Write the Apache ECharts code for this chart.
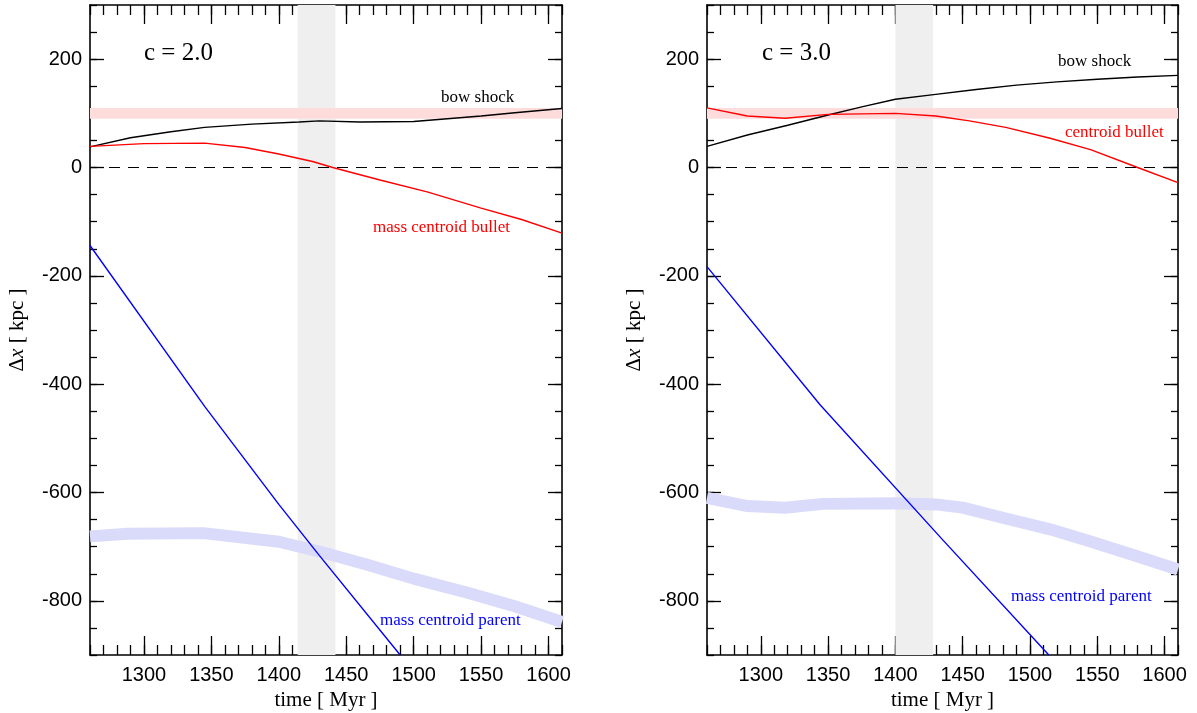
<!DOCTYPE html>
<html>
<head>
<meta charset="utf-8">
<script src="https://cdn.jsdelivr.net/npm/echarts@6/dist/echarts.min.js"></script>
<style>html,body{margin:0;padding:0;background:#fff}#c{width:1197px;height:713px}</style>
</head>
<body>
<div id="c"></div>
<script>
// ---- data (time [Myr], Δx [kpc]) ----
const xTicks = [1300, 1350, 1400, 1450, 1500, 1550, 1600];
const yTicks = [-800, -600, -400, -200, 0, 200];

const leftBow = [[1260,38],[1290,55],[1320,66],[1345,74],[1380,80],[1415,84],[1430,86],[1460,84],[1500,85],[1525,90],[1550,95],[1575,101],[1610,109]];
const leftBullet = [[1260,39],[1300,44],[1345,45],[1375,37],[1400,25],[1425,11],[1440,0],[1475,-23],[1510,-45],[1550,-75],[1580,-96],[1610,-121]];
const leftParent = [[1260,-144],[1345,-441],[1400,-622],[1430,-716],[1490,-900]];
const leftParentBand = [[1260,-681],[1288,-676],[1344,-675],[1400,-691],[1430,-709],[1465,-733],[1500,-759],[1540,-785],[1575,-810],[1610,-839]];

const rightBow = [[1260,39],[1290,60],[1320,78],[1350,97],[1375,112],[1400,126],[1430,135],[1460,144],[1490,152],[1520,158],[1550,163],[1580,167],[1610,170]];
const rightBullet = [[1260,110],[1290,95],[1318,91],[1350,98],[1400,100],[1430,95],[1455,86],[1482,74],[1515,54],[1545,33],[1580,0],[1610,-28]];
const rightParent = [[1260,-183],[1344,-438],[1435,-687],[1514,-900]];
const rightParentBand = [[1260,-610],[1290,-625],[1318,-628],[1346,-621],[1400,-620],[1430,-622],[1450,-628],[1482,-648],[1515,-668],[1542,-688],[1575,-714],[1610,-742]];

const shadeLeft = [1414, 1442];
const shadeRight = [1400, 1428];
const pinkBand = [90, 110];

// ---- layout / style ----
const SERIF = "'Liberation Serif','DejaVu Serif',serif";
const SANS = "'Liberation Sans',Arial,sans-serif";
const grids = [
  {left: 90, top: 5, width: 472, height: 650},
  {left: 707, top: 5, width: 471, height: 650}
];
const axLine = {show: true, onZero: false, lineStyle: {color: '#000', width: 1.6}};
const tickStyle = {color: '#000', width: 1.3};
const plain = v => String(v);

const xAxes = [], yAxes = [];
grids.forEach((g, gi) => {
  ['bottom', 'top'].forEach(pos => {
    xAxes.push({
      gridIndex: gi, type: 'value', min: 1260, max: 1610, position: pos,
      axisLine: axLine,
      axisTick: {show: true, inside: true, length: 19, customValues: xTicks, lineStyle: tickStyle},
      axisLabel: pos === 'bottom'
        ? {show: true, customValues: xTicks, formatter: plain, margin: 10, color: '#000', fontSize: 20, fontFamily: SANS}
        : {show: false},
      splitLine: {show: false},
      name: pos === 'bottom' ? 'time [ Myr ]' : '',
      nameLocation: 'middle', nameGap: 34,
      nameTextStyle: {fontFamily: SERIF, fontSize: 21, color: '#000'}
    });
    xAxes.push({
      gridIndex: gi, type: 'value', min: 1260, max: 1610, interval: 10, position: pos,
      axisLine: {show: false, onZero: false},
      axisTick: {show: true, inside: true, length: 10, lineStyle: tickStyle},
      axisLabel: {show: false}, splitLine: {show: false}
    });
  });
  ['left', 'right'].forEach(pos => {
    yAxes.push({
      gridIndex: gi, type: 'value', min: -900, max: 300, position: pos,
      axisLine: axLine,
      axisTick: {show: true, inside: true, length: 14, customValues: yTicks, lineStyle: tickStyle},
      axisLabel: pos === 'left'
        ? {show: true, customValues: yTicks, formatter: plain, margin: 8, color: '#000', fontSize: 20, fontFamily: SANS}
        : {show: false},
      splitLine: {show: false},
      name: pos === 'left' ? '{d|Δ}{i|x}{d| [ kpc ]}' : '',
      nameLocation: 'middle', nameGap: 62, nameRotate: 90,
      nameTextStyle: {
        fontFamily: SERIF, fontSize: 21, color: '#000',
        rich: {d: {fontFamily: SERIF, fontSize: 21, color: '#000'},
               i: {fontFamily: SERIF, fontSize: 21, fontStyle: 'italic', color: '#000'}}
      }
    });
    yAxes.push({
      gridIndex: gi, type: 'value', min: -900, max: 300, interval: 50, position: pos,
      axisLine: {show: false, onZero: false},
      axisTick: {show: true, inside: true, length: 7, lineStyle: tickStyle},
      axisLabel: {show: false}, splitLine: {show: false}
    });
  });
});

function panelSeries(gi, shade, bow, bullet, parent, parentBand) {
  const xi = gi * 4, yi = gi * 4;
  const base = {type: 'line', xAxisIndex: xi, yAxisIndex: yi, symbol: 'none', silent: true, animation: false};
  return [
    Object.assign({}, base, {
      data: [], z: 1,
      markArea: {silent: true, itemStyle: {color: '#efefef'}, data: [[{xAxis: shade[0]}, {xAxis: shade[1]}]]}
    }),
    Object.assign({}, base, {
      data: [], z: 2,
      markArea: {silent: true, itemStyle: {color: '#ffdcdc'}, data: [[{yAxis: pinkBand[0]}, {yAxis: pinkBand[1]}]]},
      markLine: {silent: true, symbol: 'none', label: {show: false},
                 lineStyle: {color: '#000', width: 1, type: [11, 8]}, data: [{yAxis: 0}]}
    }),
    Object.assign({}, base, {data: parentBand, z: 3, lineStyle: {color: '#dadafa', width: 12, cap: 'butt'}}),
    Object.assign({}, base, {data: bow, z: 4, lineStyle: {color: '#000', width: 1.4}}),
    Object.assign({}, base, {data: bullet, z: 4, lineStyle: {color: '#ff0000', width: 1.4}}),
    Object.assign({}, base, {data: parent, z: 4, lineStyle: {color: '#0000ff', width: 1.4}})
  ];
}

function txt(x, y, text, color, size) {
  return {type: 'text', x: x, y: y, z: 100, silent: true,
    style: {text: text, fill: color, font: size + 'px ' + SERIF, textVerticalAlign: 'middle'}};
}

const option = {
  backgroundColor: '#fff',
  animation: false,
  grid: grids.map(g => Object.assign({show: false, containLabel: false, outerBoundsMode: 'none'}, g)),
  xAxis: xAxes,
  yAxis: yAxes,
  series: [].concat(
    panelSeries(0, shadeLeft, leftBow, leftBullet, leftParent, leftParentBand),
    panelSeries(1, shadeRight, rightBow, rightBullet, rightParent, rightParentBand)
  ),
  graphic: [
    txt(144, 53, 'c = 2.0', '#000', 25),
    txt(762, 53, 'c = 3.0', '#000', 25),
    txt(441, 98, 'bow shock', '#000', 17),
    txt(1058, 62, 'bow shock', '#000', 17),
    txt(373, 228, 'mass centroid bullet', '#ff0000', 17),
    txt(1065, 133, 'centroid bullet', '#ff0000', 17),
    txt(380, 621, 'mass centroid parent', '#0000ff', 17),
    txt(1011, 597, 'mass centroid parent', '#0000ff', 17)
  ]
};
const chart = echarts.init(document.getElementById('c'), null, {renderer: 'canvas'});
chart.setOption(option);
</script>
</body>
</html>
